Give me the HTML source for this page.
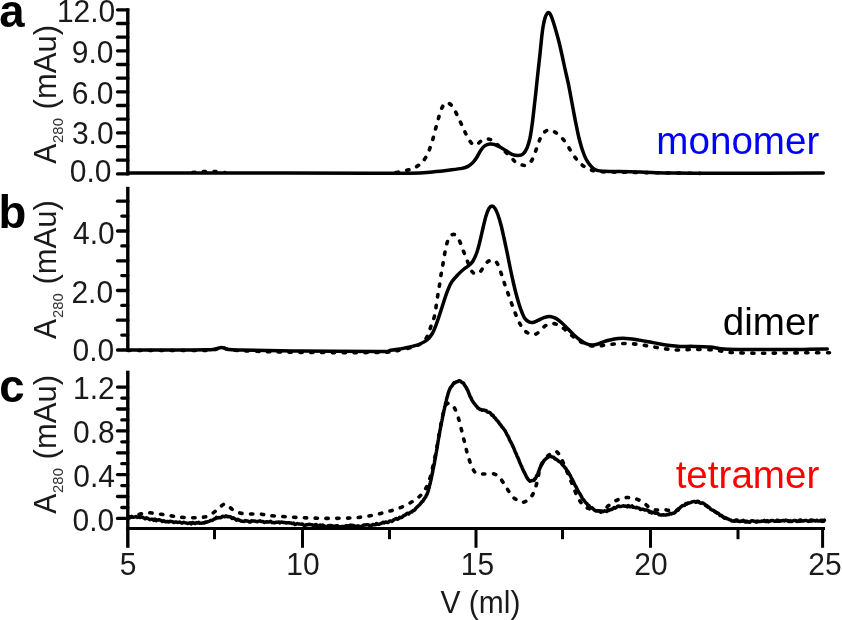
<!DOCTYPE html>
<html><head><meta charset="utf-8"><title>SEC chromatograms</title>
<style>html,body{margin:0;padding:0;background:#fff;}svg{display:block;}text{font-family:"Liberation Sans",sans-serif;}</style></head><body>
<svg width="842" height="620" viewBox="0 0 842 620">
<rect width="842" height="620" fill="#fff"/>
<line x1="127.8" y1="8.3" x2="127.8" y2="175.4" stroke="#000" stroke-width="3.4"/>
<line x1="117.5" y1="173.9" x2="127.8" y2="173.9" stroke="#000" stroke-width="3.3" stroke-linecap="round"/>
<line x1="117.5" y1="160.2" x2="127.8" y2="160.2" stroke="#000" stroke-width="3.3" stroke-linecap="round"/>
<line x1="117.5" y1="146.6" x2="127.8" y2="146.6" stroke="#000" stroke-width="3.3" stroke-linecap="round"/>
<line x1="117.5" y1="132.9" x2="127.8" y2="132.9" stroke="#000" stroke-width="3.3" stroke-linecap="round"/>
<line x1="117.5" y1="119.2" x2="127.8" y2="119.2" stroke="#000" stroke-width="3.3" stroke-linecap="round"/>
<line x1="117.5" y1="105.5" x2="127.8" y2="105.5" stroke="#000" stroke-width="3.3" stroke-linecap="round"/>
<line x1="117.5" y1="91.8" x2="127.8" y2="91.8" stroke="#000" stroke-width="3.3" stroke-linecap="round"/>
<line x1="117.5" y1="78.2" x2="127.8" y2="78.2" stroke="#000" stroke-width="3.3" stroke-linecap="round"/>
<line x1="117.5" y1="64.5" x2="127.8" y2="64.5" stroke="#000" stroke-width="3.3" stroke-linecap="round"/>
<line x1="117.5" y1="50.8" x2="127.8" y2="50.8" stroke="#000" stroke-width="3.3" stroke-linecap="round"/>
<line x1="117.5" y1="37.2" x2="127.8" y2="37.2" stroke="#000" stroke-width="3.3" stroke-linecap="round"/>
<line x1="117.5" y1="23.5" x2="127.8" y2="23.5" stroke="#000" stroke-width="3.3" stroke-linecap="round"/>
<line x1="117.5" y1="9.8" x2="127.8" y2="9.8" stroke="#000" stroke-width="3.3" stroke-linecap="round"/>
<line x1="127.8" y1="186.8" x2="127.8" y2="351.5" stroke="#000" stroke-width="3.4"/>
<line x1="117.5" y1="350.0" x2="127.8" y2="350.0" stroke="#000" stroke-width="3.3" stroke-linecap="round"/>
<line x1="121.8" y1="335.1" x2="127.8" y2="335.1" stroke="#000" stroke-width="3.3" stroke-linecap="round"/>
<line x1="117.5" y1="320.2" x2="127.8" y2="320.2" stroke="#000" stroke-width="3.3" stroke-linecap="round"/>
<line x1="121.8" y1="305.4" x2="127.8" y2="305.4" stroke="#000" stroke-width="3.3" stroke-linecap="round"/>
<line x1="117.5" y1="290.5" x2="127.8" y2="290.5" stroke="#000" stroke-width="3.3" stroke-linecap="round"/>
<line x1="121.8" y1="275.6" x2="127.8" y2="275.6" stroke="#000" stroke-width="3.3" stroke-linecap="round"/>
<line x1="117.5" y1="260.8" x2="127.8" y2="260.8" stroke="#000" stroke-width="3.3" stroke-linecap="round"/>
<line x1="121.8" y1="245.9" x2="127.8" y2="245.9" stroke="#000" stroke-width="3.3" stroke-linecap="round"/>
<line x1="117.5" y1="231.0" x2="127.8" y2="231.0" stroke="#000" stroke-width="3.3" stroke-linecap="round"/>
<line x1="121.8" y1="216.1" x2="127.8" y2="216.1" stroke="#000" stroke-width="3.3" stroke-linecap="round"/>
<line x1="117.5" y1="201.2" x2="127.8" y2="201.2" stroke="#000" stroke-width="3.3" stroke-linecap="round"/>
<line x1="127.8" y1="370.7" x2="127.8" y2="547.8" stroke="#000" stroke-width="3.4"/>
<line x1="117.5" y1="518.4" x2="127.8" y2="518.4" stroke="#000" stroke-width="3.3" stroke-linecap="round"/>
<line x1="121.8" y1="507.5" x2="127.8" y2="507.5" stroke="#000" stroke-width="3.3" stroke-linecap="round"/>
<line x1="117.5" y1="496.5" x2="127.8" y2="496.5" stroke="#000" stroke-width="3.3" stroke-linecap="round"/>
<line x1="121.8" y1="485.6" x2="127.8" y2="485.6" stroke="#000" stroke-width="3.3" stroke-linecap="round"/>
<line x1="117.5" y1="474.6" x2="127.8" y2="474.6" stroke="#000" stroke-width="3.3" stroke-linecap="round"/>
<line x1="121.8" y1="463.7" x2="127.8" y2="463.7" stroke="#000" stroke-width="3.3" stroke-linecap="round"/>
<line x1="117.5" y1="452.8" x2="127.8" y2="452.8" stroke="#000" stroke-width="3.3" stroke-linecap="round"/>
<line x1="121.8" y1="441.8" x2="127.8" y2="441.8" stroke="#000" stroke-width="3.3" stroke-linecap="round"/>
<line x1="117.5" y1="430.9" x2="127.8" y2="430.9" stroke="#000" stroke-width="3.3" stroke-linecap="round"/>
<line x1="121.8" y1="419.9" x2="127.8" y2="419.9" stroke="#000" stroke-width="3.3" stroke-linecap="round"/>
<line x1="117.5" y1="409.0" x2="127.8" y2="409.0" stroke="#000" stroke-width="3.3" stroke-linecap="round"/>
<line x1="121.8" y1="398.1" x2="127.8" y2="398.1" stroke="#000" stroke-width="3.3" stroke-linecap="round"/>
<line x1="117.5" y1="387.1" x2="127.8" y2="387.1" stroke="#000" stroke-width="3.3" stroke-linecap="round"/>
<line x1="126.1" y1="528.5" x2="825" y2="528.5" stroke="#000" stroke-width="3.2"/>
<line x1="214.5" y1="528.5" x2="214.5" y2="539.2" stroke="#000" stroke-width="3"/>
<line x1="302.5" y1="528.5" x2="302.5" y2="547.8" stroke="#000" stroke-width="3"/>
<line x1="389.5" y1="528.5" x2="389.5" y2="539.2" stroke="#000" stroke-width="3"/>
<line x1="476.0" y1="528.5" x2="476.0" y2="547.8" stroke="#000" stroke-width="3"/>
<line x1="562.5" y1="528.5" x2="562.5" y2="539.2" stroke="#000" stroke-width="3"/>
<line x1="650.5" y1="528.5" x2="650.5" y2="547.8" stroke="#000" stroke-width="3"/>
<line x1="738.0" y1="528.5" x2="738.0" y2="539.2" stroke="#000" stroke-width="3"/>
<line x1="822.6" y1="528.5" x2="822.6" y2="547.8" stroke="#000" stroke-width="3"/>
<path d="M396.0 172.6C397.3 172.3 401.7 171.5 404.0 171.0C406.3 170.5 408.3 169.9 410.0 169.4C411.7 168.9 412.5 168.7 414.0 168.0C415.5 167.3 417.5 166.1 419.0 165.0C420.5 163.9 421.5 163.6 423.0 161.6C424.5 159.6 426.5 156.3 428.0 153.0C429.5 149.7 430.8 145.7 432.0 142.0C433.2 138.3 434.0 134.7 435.0 131.0C436.0 127.3 437.0 123.5 438.0 120.0C439.0 116.5 440.0 112.6 441.0 110.0C442.0 107.4 443.1 105.6 444.0 104.4C444.9 103.2 445.4 102.9 446.4 102.8C447.4 102.7 448.7 103.0 450.0 104.0C451.3 105.0 452.5 106.5 454.0 109.0C455.5 111.5 457.3 115.5 459.0 119.0C460.7 122.5 462.5 126.8 464.0 130.0C465.5 133.2 466.7 135.7 468.0 138.0C469.3 140.3 470.7 142.4 472.0 143.6C473.3 144.8 474.5 145.4 476.0 145.0C477.5 144.6 479.5 142.0 481.0 141.0C482.5 140.0 483.5 139.3 485.0 139.0C486.5 138.7 488.5 138.9 490.0 139.4C491.5 139.9 492.3 140.7 494.0 142.0C495.7 143.3 498.2 145.4 500.0 147.0C501.8 148.6 503.3 150.1 505.0 151.6C506.7 153.1 508.3 154.3 510.0 156.0C511.7 157.7 513.2 160.1 515.0 161.6C516.8 163.1 519.0 164.2 521.0 164.8C523.0 165.4 525.2 165.8 527.0 165.0C528.8 164.2 530.5 162.5 532.0 160.0C533.5 157.5 534.7 153.5 536.0 150.0C537.3 146.5 538.7 141.9 540.0 139.0C541.3 136.1 542.5 133.9 544.0 132.4C545.5 130.9 547.3 130.1 549.0 130.0C550.7 129.9 552.2 130.6 554.0 131.6C555.8 132.6 558.0 134.1 560.0 136.0C562.0 137.9 564.0 140.2 566.0 143.0C568.0 145.8 570.0 150.0 572.0 153.0C574.0 156.0 576.0 158.8 578.0 161.0C580.0 163.2 582.0 165.0 584.0 166.4C586.0 167.8 588.0 168.8 590.0 169.6C592.0 170.4 592.7 170.8 596.0 171.2C599.3 171.6 592.7 171.6 610.0 172.0C627.3 172.4 685.0 173.2 700.0 173.4" fill="none" stroke="#000" stroke-width="3.6" stroke-linecap="round" stroke-linejoin="round" stroke-dasharray="2.3 8.5"/>
<path d="M128.0 173.0C140.0 173.0 159.7 173.0 200.0 173.0C240.3 173.0 333.3 173.2 370.0 173.2C406.7 173.2 409.0 173.3 420.0 173.0C431.0 172.7 431.0 172.1 436.0 171.6C441.0 171.1 445.7 170.5 450.0 170.0C454.3 169.5 459.0 169.0 462.0 168.4C465.0 167.8 466.2 167.4 468.0 166.4C469.8 165.4 471.5 164.0 473.0 162.4C474.5 160.8 475.7 159.1 477.0 157.0C478.3 154.9 479.7 151.9 481.0 150.0C482.3 148.1 483.5 146.6 485.0 145.6C486.5 144.6 488.5 144.2 490.0 144.0C491.5 143.8 492.3 143.9 494.0 144.4C495.7 144.9 498.0 146.0 500.0 147.0C502.0 148.0 504.0 149.4 506.0 150.6C508.0 151.8 510.0 153.6 512.0 154.4C514.0 155.2 516.2 155.7 518.0 155.6C519.8 155.5 521.5 155.3 523.0 154.0C524.5 152.7 525.8 150.7 527.0 148.0C528.2 145.3 529.1 142.0 530.0 138.0C530.9 134.0 531.5 129.2 532.2 124.0C532.9 118.8 533.6 112.5 534.2 107.0C534.8 101.5 535.4 96.8 536.0 91.0C536.6 85.2 537.3 78.2 538.0 72.0C538.7 65.8 539.4 59.7 540.0 54.0C540.6 48.3 541.1 42.7 541.6 38.0C542.1 33.3 542.6 29.3 543.2 26.0C543.8 22.7 544.4 20.1 545.0 18.0C545.6 15.9 546.4 14.5 547.0 13.6C547.6 12.7 547.8 12.5 548.4 12.6C549.0 12.7 549.6 13.0 550.4 14.4C551.2 15.8 552.1 18.2 553.0 21.0C553.9 23.8 555.0 27.5 556.0 31.0C557.0 34.5 558.0 38.0 559.0 42.0C560.0 46.0 561.0 50.5 562.0 55.0C563.0 59.5 564.0 64.5 565.0 69.0C566.0 73.5 567.0 77.5 568.0 82.0C569.0 86.5 569.8 91.3 570.7 96.0C571.6 100.7 572.4 105.3 573.3 110.0C574.2 114.7 575.0 119.3 576.0 124.0C577.0 128.7 577.9 133.7 579.0 138.0C580.1 142.3 581.2 146.5 582.4 150.0C583.6 153.5 584.7 156.5 586.0 159.0C587.3 161.5 588.7 163.3 590.0 165.0C591.3 166.7 592.7 168.1 594.0 169.0C595.3 169.9 596.3 170.2 598.0 170.6C599.7 171.0 600.3 171.0 604.0 171.2C607.7 171.4 614.0 171.5 620.0 171.6C626.0 171.7 632.0 171.8 640.0 172.0C648.0 172.2 658.0 172.8 668.0 173.0C678.0 173.2 674.1 173.2 700.0 173.2C725.9 173.2 802.8 173.1 823.3 173.1" fill="none" stroke="#000" stroke-width="3.5" stroke-linecap="round" stroke-linejoin="round"/>
<path d="M128.0 350.5C140.0 350.5 185.7 350.6 200.0 350.5C214.3 350.4 210.3 350.1 214.0 349.6C217.7 349.1 219.3 347.4 222.0 347.4C224.7 347.4 225.3 349.2 230.0 349.8C234.7 350.4 238.3 350.6 250.0 351.0C261.7 351.4 278.3 352.2 300.0 352.4C321.7 352.6 363.3 352.8 380.0 352.4C396.7 352.0 394.2 351.0 400.0 350.0C405.8 349.0 411.2 347.7 415.0 346.4C418.8 345.1 420.8 343.9 423.0 342.0C425.2 340.1 426.7 337.7 428.0 335.0C429.3 332.3 429.9 329.2 431.0 326.0C432.1 322.8 433.5 320.3 434.5 316.0C435.5 311.7 436.2 305.2 437.0 300.0C437.8 294.8 438.8 289.7 439.5 285.0C440.2 280.3 440.8 276.0 441.5 272.0C442.2 268.0 442.8 265.0 443.5 261.0C444.2 257.0 444.9 251.8 445.8 248.0C446.7 244.2 447.6 240.3 449.0 238.0C450.4 235.7 452.3 234.1 454.0 234.4C455.7 234.7 457.5 237.4 459.0 240.0C460.5 242.6 461.7 246.7 463.0 250.0C464.3 253.3 465.7 256.7 467.0 260.0C468.3 263.3 469.7 267.7 471.0 270.0C472.3 272.3 473.5 273.3 475.0 273.6C476.5 273.9 478.5 273.3 480.0 272.0C481.5 270.7 482.7 267.7 484.0 266.0C485.3 264.3 486.5 262.6 488.0 261.6C489.5 260.6 491.5 259.8 493.0 260.0C494.5 260.2 495.8 261.3 497.0 263.0C498.2 264.7 499.0 267.3 500.0 270.0C501.0 272.7 502.0 276.0 503.0 279.0C504.0 282.0 504.8 284.7 506.0 288.0C507.2 291.3 508.7 295.3 510.0 299.0C511.3 302.7 512.5 306.2 514.0 310.0C515.5 313.8 517.3 318.7 519.0 322.0C520.7 325.3 522.2 328.0 524.0 330.0C525.8 332.0 528.2 333.3 530.0 334.0C531.8 334.7 533.3 334.9 535.0 334.4C536.7 333.9 538.3 332.4 540.0 331.0C541.7 329.6 543.2 327.2 545.0 326.0C546.8 324.8 549.0 323.9 551.0 323.6C553.0 323.3 555.0 323.7 557.0 324.4C559.0 325.1 561.0 326.6 563.0 328.0C565.0 329.4 567.0 331.3 569.0 333.0C571.0 334.7 572.8 336.4 575.0 338.0C577.2 339.6 579.5 341.1 582.0 342.4C584.5 343.7 587.3 345.0 590.0 345.6C592.7 346.2 595.3 346.1 598.0 346.0C600.7 345.9 603.3 345.3 606.0 345.0C608.7 344.7 611.3 344.2 614.0 344.0C616.7 343.8 619.3 343.7 622.0 343.6C624.7 343.5 627.3 343.5 630.0 343.6C632.7 343.7 635.3 344.1 638.0 344.4C640.7 344.7 643.3 345.2 646.0 345.6C648.7 346.0 651.3 346.5 654.0 347.0C656.7 347.5 659.3 348.0 662.0 348.4C664.7 348.8 667.3 349.1 670.0 349.4C672.7 349.7 674.0 350.0 678.0 350.0C682.0 350.0 688.0 349.4 694.0 349.4C700.0 349.4 708.0 349.5 714.0 350.0C720.0 350.5 723.3 351.9 730.0 352.4C736.7 352.9 746.7 353.1 754.0 353.2C761.3 353.3 765.7 353.2 774.0 353.1C782.3 353.0 794.8 352.9 804.0 352.8C813.2 352.8 825.2 352.8 829.5 352.8" fill="none" stroke="#000" stroke-width="3.6" stroke-linecap="round" stroke-linejoin="round" stroke-dasharray="2.3 8.5"/>
<path d="M128.0 350.0C136.7 350.0 167.2 350.0 180.0 350.0C192.8 350.0 199.2 349.9 205.0 349.8C210.8 349.7 212.2 349.6 215.0 349.2C217.8 348.8 219.3 347.4 221.5 347.4C223.7 347.4 224.9 349.0 228.0 349.4C231.1 349.8 228.0 349.7 240.0 350.0C252.0 350.3 276.7 350.8 300.0 351.0C323.3 351.2 365.0 351.5 380.0 351.4C395.0 351.3 386.7 350.8 390.0 350.4C393.3 350.0 396.7 349.6 400.0 349.0C403.3 348.4 406.7 347.8 410.0 347.0C413.3 346.2 417.2 345.2 420.0 344.0C422.8 342.8 425.0 341.7 427.0 340.0C429.0 338.3 430.5 336.5 432.0 334.0C433.5 331.5 434.7 328.4 436.0 325.0C437.3 321.6 438.7 317.5 440.0 313.5C441.3 309.5 442.7 305.0 444.0 301.0C445.3 297.0 446.7 292.8 448.0 289.6C449.3 286.4 450.3 284.1 452.0 281.6C453.7 279.1 456.0 276.7 458.0 274.6C460.0 272.5 462.2 270.5 464.0 269.0C465.8 267.5 467.5 266.7 469.0 265.4C470.5 264.1 471.7 263.2 473.0 261.0C474.3 258.8 475.8 255.3 477.0 252.0C478.2 248.7 479.0 245.0 480.0 241.0C481.0 237.0 482.0 232.2 483.0 228.0C484.0 223.8 485.0 219.3 486.0 216.0C487.0 212.7 488.0 210.1 489.0 208.4C490.0 206.7 491.0 206.0 492.0 206.0C493.0 206.0 494.0 206.9 495.0 208.4C496.0 209.9 497.0 212.2 498.0 215.0C499.0 217.8 500.0 221.2 501.0 225.0C502.0 228.8 503.0 233.5 504.0 238.0C505.0 242.5 506.0 247.2 507.0 252.0C508.0 256.8 509.0 262.2 510.0 267.0C511.0 271.8 512.0 276.6 513.0 281.0C514.0 285.4 515.0 289.7 516.0 293.5C517.0 297.3 518.0 300.8 519.0 304.0C520.0 307.2 521.0 310.1 522.0 312.5C523.0 314.9 523.8 317.1 525.0 318.6C526.2 320.2 527.7 321.2 529.0 321.8C530.3 322.4 531.5 322.6 533.0 322.4C534.5 322.2 536.2 321.2 538.0 320.4C539.8 319.6 542.0 318.3 544.0 317.6C546.0 316.9 548.0 316.3 550.0 316.4C552.0 316.5 554.0 317.3 556.0 318.4C558.0 319.5 560.0 321.2 562.0 323.0C564.0 324.8 566.0 327.0 568.0 329.0C570.0 331.0 572.0 333.2 574.0 335.0C576.0 336.8 578.0 338.6 580.0 340.0C582.0 341.4 584.0 342.8 586.0 343.6C588.0 344.4 590.0 344.9 592.0 345.0C594.0 345.1 596.0 344.6 598.0 344.0C600.0 343.4 602.0 342.3 604.0 341.6C606.0 340.9 607.7 340.5 610.0 340.0C612.3 339.5 615.3 338.9 618.0 338.6C620.7 338.3 623.3 338.3 626.0 338.4C628.7 338.5 631.3 338.8 634.0 339.2C636.7 339.6 639.3 340.1 642.0 340.6C644.7 341.1 647.0 341.4 650.0 342.0C653.0 342.6 656.7 343.4 660.0 344.0C663.3 344.6 666.7 345.2 670.0 345.6C673.3 346.0 676.0 346.3 680.0 346.4C684.0 346.5 689.0 346.3 694.0 346.4C699.0 346.5 705.0 346.6 710.0 347.0C715.0 347.4 718.3 348.6 724.0 349.0C729.7 349.4 735.7 349.5 744.0 349.6C752.3 349.7 764.0 349.5 774.0 349.5C784.0 349.5 795.1 349.5 804.0 349.4C812.9 349.3 823.4 349.2 827.3 349.1" fill="none" stroke="#000" stroke-width="3.5" stroke-linecap="round" stroke-linejoin="round"/>
<path d="M129.0 518.0C130.2 517.6 133.2 516.5 136.0 515.6C138.8 514.7 142.7 513.1 146.0 512.8C149.3 512.5 152.7 513.2 156.0 513.6C159.3 514.0 162.7 514.5 166.0 515.0C169.3 515.5 172.7 516.2 176.0 516.6C179.3 517.0 182.3 517.4 186.0 517.6C189.7 517.8 194.3 517.9 198.0 517.6C201.7 517.3 204.8 517.3 208.0 516.0C211.2 514.7 214.2 512.0 217.0 510.0C219.8 508.0 222.3 504.0 225.0 504.0C227.7 504.0 230.5 508.5 233.0 510.0C235.5 511.5 237.2 512.3 240.0 513.0C242.8 513.7 246.7 513.8 250.0 514.0C253.3 514.2 256.7 513.7 260.0 514.0C263.3 514.3 265.0 515.1 270.0 515.6C275.0 516.1 283.3 516.6 290.0 517.0C296.7 517.4 303.3 517.8 310.0 518.0C316.7 518.2 323.3 518.4 330.0 518.4C336.7 518.4 344.7 518.2 350.0 518.0C355.3 517.8 358.0 517.5 362.0 517.0C366.0 516.5 370.0 515.8 374.0 515.0C378.0 514.2 382.0 513.1 386.0 512.0C390.0 510.9 394.0 510.1 398.0 508.6C402.0 507.1 406.3 505.1 410.0 503.0C413.7 500.9 417.3 498.5 420.0 496.0C422.7 493.5 424.3 491.0 426.0 488.0C427.7 485.0 428.8 481.7 430.0 478.0C431.2 474.3 432.0 470.3 433.0 466.0C434.0 461.7 435.0 457.2 436.0 452.0C437.0 446.8 438.0 440.5 439.0 435.0C440.0 429.5 441.0 423.7 442.0 419.0C443.0 414.3 444.0 409.6 445.0 407.0C446.0 404.4 447.0 403.8 448.0 403.4C449.0 403.0 449.8 403.5 451.0 404.4C452.2 405.3 453.7 406.4 455.0 409.0C456.3 411.6 457.8 416.2 459.0 420.0C460.2 423.8 461.0 428.0 462.0 432.0C463.0 436.0 464.0 440.0 465.0 444.0C466.0 448.0 466.8 452.2 468.0 456.0C469.2 459.8 470.7 464.2 472.0 467.0C473.3 469.8 474.0 471.8 476.0 473.0C478.0 474.2 481.0 473.8 484.0 474.0C487.0 474.2 491.3 473.3 494.0 474.0C496.7 474.7 498.0 475.8 500.0 478.0C502.0 480.2 504.0 484.0 506.0 487.0C508.0 490.0 510.2 493.8 512.0 496.0C513.8 498.2 515.3 498.9 517.0 500.0C518.7 501.1 520.2 502.4 522.0 502.4C523.8 502.4 526.2 501.4 528.0 500.0C529.8 498.6 531.7 496.3 533.0 494.0C534.3 491.7 535.2 488.7 536.0 486.0C536.8 483.3 537.3 481.0 538.0 478.0C538.7 475.0 539.0 471.0 540.0 468.0C541.0 465.0 542.5 462.2 544.0 460.0C545.5 457.8 547.2 456.4 549.0 455.0C550.8 453.6 553.5 451.9 555.0 451.6C556.5 451.3 556.8 451.6 558.0 453.0C559.2 454.4 560.3 456.5 562.0 460.0C563.7 463.5 566.2 469.7 568.0 474.0C569.8 478.3 571.3 482.0 573.0 486.0C574.7 490.0 576.2 494.7 578.0 498.0C579.8 501.3 582.0 504.2 584.0 506.0C586.0 507.8 587.0 508.2 590.0 509.0C593.0 509.8 599.0 511.5 602.0 511.0C605.0 510.5 606.0 507.6 608.0 506.0C610.0 504.4 612.0 502.8 614.0 501.6C616.0 500.4 618.0 499.7 620.0 499.0C622.0 498.3 624.0 497.8 626.0 497.6C628.0 497.4 630.0 497.7 632.0 498.0C634.0 498.3 636.0 498.8 638.0 499.6C640.0 500.4 642.0 501.6 644.0 503.0C646.0 504.4 648.0 506.8 650.0 508.0C652.0 509.2 654.0 509.8 656.0 510.0C658.0 510.2 659.7 509.3 662.0 509.4C664.3 509.5 667.7 510.2 670.0 510.4C672.3 510.6 674.2 511.2 676.0 510.6C677.8 510.0 679.3 508.1 681.0 507.0C682.7 505.9 684.2 504.8 686.0 504.0C687.8 503.2 690.2 502.8 692.0 502.4C693.8 502.0 695.3 501.5 697.0 501.6C698.7 501.7 700.2 502.1 702.0 503.0C703.8 503.9 706.0 505.7 708.0 507.0C710.0 508.3 712.0 509.7 714.0 511.0C716.0 512.3 718.0 513.8 720.0 515.0C722.0 516.2 724.0 517.5 726.0 518.4C728.0 519.3 729.7 520.0 732.0 520.4C734.3 520.8 735.3 520.8 740.0 521.0C744.7 521.2 745.9 521.4 760.0 521.4C774.1 521.4 813.7 520.9 824.4 520.8" fill="none" stroke="#000" stroke-width="3.6" stroke-linecap="round" stroke-linejoin="round" stroke-dasharray="2.3 8.5"/>
<path d="M129.0 516.7L129.7 516.5L130.7 517.3L131.9 516.4L133.2 517.2L134.6 517.0L136.0 516.6L137.4 517.4L138.8 516.8L140.0 517.5L141.3 517.1L142.6 517.2L143.8 517.9L145.1 518.8L146.3 517.8L147.5 518.2L148.8 519.0L150.0 519.7L151.2 519.3L152.5 519.2L153.8 520.3L155.0 519.1L156.2 520.6L157.5 519.9L158.8 519.8L160.0 520.0L161.2 520.5L162.5 521.5L163.8 520.7L165.0 521.5L166.2 521.8L167.5 521.5L168.8 522.0L170.0 521.3L171.2 521.4L172.5 521.7L173.8 522.5L175.0 522.1L176.2 522.0L177.5 522.4L178.8 522.3L180.0 522.1L181.2 522.9L182.5 522.9L183.8 522.2L185.0 522.8L186.2 522.9L187.5 523.5L188.8 523.3L190.0 522.7L191.3 523.8L192.5 522.5L193.8 523.0L195.1 523.5L196.4 522.6L197.6 523.1L198.8 522.3L200.0 523.3L201.5 523.3L202.9 522.8L204.2 523.1L205.6 521.9L206.8 522.2L208.0 521.7L209.3 521.3L210.5 520.6L211.7 520.5L212.8 520.1L214.0 519.0L215.2 518.8L216.4 517.4L217.6 518.0L218.8 517.5L220.0 517.8L221.2 517.3L222.4 516.3L223.6 516.4L224.8 516.8L226.0 515.8L227.2 516.7L228.4 516.5L229.6 516.7L230.8 517.0L232.0 518.4L233.1 517.8L234.2 518.4L235.3 519.1L236.5 520.2L238.0 519.3L239.0 520.1L240.2 520.5L241.4 521.2L242.6 521.2L243.9 521.4L245.3 520.6L246.6 521.0L248.0 521.0L249.1 521.9L250.3 522.1L251.5 520.8L252.7 520.9L253.9 521.0L255.1 521.1L256.3 521.5L257.6 521.7L258.8 521.2L260.0 520.8L261.2 521.5L262.3 521.5L263.4 521.8L264.5 522.4L265.6 522.0L266.8 521.8L268.0 522.0L269.2 522.1L270.6 521.2L272.0 522.6L273.0 522.5L274.1 522.8L275.2 522.7L276.3 522.2L277.5 522.3L278.7 521.9L279.9 522.9L281.1 522.1L282.4 522.2L283.6 522.6L284.9 522.6L286.2 523.0L287.5 522.7L288.7 522.7L290.0 523.0L291.2 523.1L292.4 523.6L293.6 523.1L294.9 524.6L296.1 524.2L297.4 523.6L298.6 523.9L299.9 524.1L301.1 524.2L302.4 523.9L303.7 525.2L305.0 525.5L306.2 524.7L307.5 524.8L308.7 524.3L310.0 524.4L311.2 524.8L312.5 524.8L313.8 525.8L315.0 524.8L316.2 524.6L317.5 526.2L318.8 525.6L320.0 525.0L321.2 525.7L322.5 525.0L323.8 525.8L325.0 526.6L326.2 526.5L327.5 526.2L328.8 525.6L330.0 525.8L331.2 525.5L332.5 526.5L333.8 526.1L335.0 526.5L336.2 525.8L337.5 525.7L338.8 526.6L340.0 526.9L341.2 526.7L342.5 526.6L343.8 526.6L345.0 526.5L346.2 525.6L347.5 526.1L348.8 525.8L350.0 525.2L351.3 525.2L352.6 525.6L353.9 525.5L355.2 526.2L356.5 526.5L357.9 525.7L359.2 526.4L360.5 526.4L361.8 526.3L363.1 525.3L364.3 525.0L365.6 524.9L366.7 524.8L367.9 524.7L369.0 525.3L370.0 525.6L371.5 525.4L372.9 524.6L374.2 524.7L375.4 524.8L376.5 523.5L377.6 524.2L378.7 524.3L379.7 523.9L380.8 523.6L382.0 523.0L383.2 522.2L384.4 522.9L385.7 522.0L386.9 522.4L388.1 522.4L389.3 521.2L390.5 520.9L391.7 521.4L392.9 520.7L394.0 519.5L395.2 519.0L396.4 518.6L397.5 519.3L398.6 518.7L399.7 517.2L400.7 517.7L401.8 517.4L402.9 516.4L404.0 515.4L405.1 515.1L406.3 514.0L407.4 513.2L408.6 514.0L409.7 512.9L410.8 512.1L411.9 512.0L413.0 510.6L414.0 510.5L415.0 509.6L416.0 508.0L416.9 507.2L417.9 506.4L418.8 505.4L419.6 504.8L420.5 503.6L421.3 502.8L422.0 501.6L422.9 501.3L423.7 499.6L424.5 498.6L425.2 497.6L425.8 496.7L426.4 495.2L427.0 494.3L427.5 492.9L427.9 491.8L428.3 490.6L428.6 489.2L429.0 488.1L429.3 486.7L429.6 485.3L430.0 484.1L430.3 482.8L430.5 481.7L430.8 480.6L431.1 479.3L431.4 478.0L431.6 476.7L431.9 475.4L432.2 474.2L432.5 472.6L432.7 471.4L433.0 469.9L433.2 468.8L433.5 467.8L433.7 466.5L433.9 465.3L434.2 464.2L434.4 463.0L434.6 461.6L434.8 460.4L435.1 459.1L435.3 457.9L435.5 456.6L435.8 455.3L436.0 454.0L436.2 452.8L436.4 451.8L436.6 450.5L436.8 449.4L437.0 448.2L437.2 446.8L437.4 445.6L437.6 444.5L437.8 443.2L438.0 441.8L438.2 440.6L438.4 439.5L438.6 438.2L438.8 437.1L439.0 435.9L439.2 434.7L439.5 433.5L439.7 432.2L439.9 430.8L440.2 429.7L440.4 428.4L440.6 427.0L440.8 426.0L441.1 424.9L441.3 423.4L441.5 422.5L441.8 421.1L442.0 420.0L442.3 418.8L442.5 417.4L442.8 415.9L443.1 414.7L443.4 413.4L443.6 412.1L443.9 410.8L444.2 409.6L444.5 408.5L444.7 407.0L445.0 406.0L445.3 404.7L445.6 403.2L445.9 402.0L446.2 400.9L446.5 399.6L446.8 398.2L447.1 397.4L447.4 396.2L447.7 395.2L448.0 393.8L448.5 392.4L449.0 390.9L449.4 390.2L449.9 388.8L450.4 387.7L451.0 386.9L451.7 386.2L452.5 385.1L453.4 383.6L454.2 382.6L455.0 383.0L456.3 381.8L457.7 381.7L459.0 380.7L460.3 380.9L461.7 382.3L463.0 382.9L463.7 383.3L464.4 385.0L465.1 385.8L465.7 387.0L466.4 387.6L467.0 389.3L467.6 389.8L468.1 391.5L468.6 392.5L469.0 393.6L469.5 394.9L470.0 396.3L470.6 397.1L471.2 398.3L471.7 399.7L472.3 400.7L473.0 401.7L473.7 402.8L474.5 403.7L475.4 404.9L476.2 405.9L477.0 406.8L478.0 408.2L478.9 408.5L479.9 409.4L481.0 409.5L482.2 410.2L483.5 409.9L484.8 410.5L486.0 410.5L487.4 412.0L488.6 412.2L490.0 412.6L490.9 413.7L491.9 415.2L493.0 415.3L494.0 417.2L495.0 417.9L495.8 418.9L496.7 420.2L497.5 420.8L498.3 421.9L499.2 423.1L500.0 424.5L500.7 424.8L501.4 426.2L502.1 427.0L502.9 427.9L503.6 428.7L504.3 429.7L505.0 430.6L505.6 431.8L506.2 432.8L506.9 434.5L507.5 435.4L508.1 436.5L508.8 437.7L509.4 439.5L510.0 440.8L510.6 441.7L511.1 442.6L511.7 443.7L512.2 444.9L512.8 446.1L513.3 447.1L513.9 448.5L514.4 449.6L515.0 451.3L515.5 452.5L516.0 453.4L516.5 454.4L517.0 456.1L517.6 457.0L518.1 458.3L518.6 459.3L519.1 460.7L519.5 461.9L520.0 463.0L520.5 464.1L521.1 465.5L521.6 466.4L522.1 467.7L522.5 468.6L523.0 469.9L523.5 470.7L524.0 471.7L524.7 473.2L525.4 474.5L526.1 476.0L526.7 477.1L527.4 478.4L528.0 479.2L529.1 480.4L530.0 481.3L531.0 480.8L532.5 480.6L534.0 480.6L534.8 478.8L535.5 478.4L536.2 477.0L537.0 475.2L537.5 474.6L538.0 473.4L538.5 471.9L539.0 470.6L539.5 469.4L540.0 467.8L540.6 466.7L541.2 465.4L541.8 464.4L542.4 463.3L543.0 462.3L544.0 460.6L544.9 459.8L546.0 458.6L547.2 457.9L548.6 456.8L550.0 456.3L551.2 456.5L552.4 457.1L553.7 457.2L555.0 458.9L556.0 459.0L557.0 459.8L558.0 460.6L559.0 461.5L560.0 462.1L561.0 462.4L561.9 464.2L562.7 465.1L563.6 465.8L564.4 466.8L565.2 468.0L566.0 468.6L566.7 470.2L567.4 470.9L568.1 471.8L568.9 473.1L569.6 474.7L570.3 475.5L571.0 477.2L571.6 478.4L572.1 479.1L572.7 480.1L573.2 481.3L573.8 482.6L574.3 483.9L574.9 484.9L575.4 486.0L576.0 486.7L576.6 487.9L577.2 489.2L577.9 490.7L578.5 491.5L579.1 492.9L579.8 493.5L580.4 494.6L581.0 495.8L581.7 497.3L582.4 498.4L583.1 499.4L583.9 500.1L584.6 501.2L585.3 502.1L586.0 503.0L587.0 503.7L588.0 505.6L589.0 505.6L590.0 507.4L591.0 508.2L592.2 507.8L593.4 509.2L594.7 510.3L596.0 511.1L597.1 510.7L598.3 510.8L599.6 510.9L600.8 512.2L602.0 511.1L603.2 511.7L604.4 510.8L605.6 511.1L606.8 511.5L608.0 509.8L609.2 510.5L610.4 509.5L611.6 509.5L612.8 508.7L614.0 507.6L615.2 508.2L616.4 507.3L617.6 506.3L618.8 506.0L620.0 506.6L621.2 506.4L622.4 506.1L623.6 505.8L624.8 506.2L626.0 506.1L627.2 506.9L628.4 505.5L629.6 506.7L630.8 506.8L632.0 505.8L633.2 507.3L634.3 507.2L635.5 507.8L636.7 507.3L638.0 507.8L639.2 508.2L640.5 509.5L641.9 509.3L643.3 509.3L644.6 509.9L646.0 510.1L647.1 510.1L648.3 510.6L649.4 512.1L650.6 511.6L651.7 513.0L652.9 512.3L654.0 512.6L655.3 513.3L656.7 513.1L658.0 513.7L659.3 514.8L660.7 514.9L662.0 514.9L663.4 514.7L664.7 515.1L666.1 515.1L667.5 514.4L668.8 514.6L670.0 513.3L671.3 514.0L672.6 513.2L673.8 513.2L674.9 512.5L676.0 511.3L677.1 510.2L678.1 510.3L679.0 508.4L680.0 507.8L681.0 506.8L682.2 505.8L683.4 505.6L684.7 505.3L686.0 503.6L687.2 503.8L688.4 502.9L689.6 503.0L690.8 502.5L692.0 501.9L693.3 501.6L694.6 501.4L695.8 502.3L697.0 501.6L698.2 501.3L699.4 502.6L700.7 503.2L702.0 502.9L702.9 503.0L703.9 503.7L704.9 504.3L706.0 505.4L707.0 505.8L708.0 506.7L709.0 507.3L710.0 508.4L711.0 509.5L712.0 510.0L713.0 510.2L714.0 510.9L715.0 511.7L716.0 512.2L717.0 512.8L718.0 513.1L719.0 514.1L720.0 515.6L721.2 515.2L722.4 516.5L723.6 517.4L724.8 518.3L726.0 518.0L727.2 518.6L728.3 519.0L729.5 519.6L730.7 520.0L732.0 521.1L733.2 521.1L734.4 521.3L735.8 520.0L737.1 520.1L738.5 521.3L740.0 521.6L741.1 521.0L742.1 521.3L743.2 520.4L744.2 521.1L745.4 522.0L746.8 521.9L748.3 522.0L750.0 522.2L751.0 521.0L752.0 520.8L753.0 520.8L754.1 521.4L755.2 521.6L756.4 522.0L757.6 521.6L758.9 521.5L760.2 521.6L761.5 521.1L762.8 521.2L764.2 520.4L765.6 521.5L767.0 520.6L768.5 521.7L770.0 521.2L771.1 520.7L772.2 520.4L773.3 520.6L774.4 521.2L775.6 521.3L776.8 520.3L778.0 520.2L779.2 521.0L780.5 521.0L781.7 520.7L783.0 520.4L784.2 521.0L785.5 520.1L786.8 520.6L788.1 520.8L789.3 521.6L790.6 521.1L791.9 521.5L793.1 520.8L794.4 520.4L795.6 520.4L796.8 521.5L798.0 521.1L799.3 520.5L800.6 520.0L801.9 520.8L803.3 521.0L804.6 520.6L806.0 520.4L807.4 521.0L808.8 521.4L810.2 520.3L811.6 520.0L812.9 520.4L814.3 520.6L815.6 521.0L816.8 520.2L818.0 521.1L819.1 521.0L820.2 520.6L821.2 520.2L822.2 521.4L823.0 520.3L823.7 521.1L824.4 520.2" fill="none" stroke="#000" stroke-width="3.5" stroke-linecap="round" stroke-linejoin="round"/>
<path d="M192.6 172.3C198 171.6 203 171.2 208.5 171.2C214 171.2 219 171.6 225 172.3" fill="none" stroke="#000" stroke-width="3.2" stroke-linecap="round" stroke-dasharray="2.3 8.4"/>
<text transform="translate(115.3 22.0) scale(1 1.075)" font-size="30" text-anchor="end" fill="#1a1a1a">12.0</text>
<text transform="translate(113.4 62.7) scale(1 1.075)" font-size="30" text-anchor="end" fill="#1a1a1a">9.0</text>
<text transform="translate(113.4 104.2) scale(1 1.075)" font-size="30" text-anchor="end" fill="#1a1a1a">6.0</text>
<text transform="translate(113.6 143.5) scale(1 1.075)" font-size="30" text-anchor="end" fill="#1a1a1a">3.0</text>
<text transform="translate(111.4 181.6) scale(1 1.075)" font-size="30" text-anchor="end" fill="#1a1a1a">0.0</text>
<text transform="translate(114.7 243.9) scale(1 1.075)" font-size="30" text-anchor="end" fill="#1a1a1a">4.0</text>
<text transform="translate(113.1 303.4) scale(1 1.075)" font-size="30" text-anchor="end" fill="#1a1a1a">2.0</text>
<text transform="translate(114.3 361.0) scale(1 1.075)" font-size="30" text-anchor="end" fill="#1a1a1a">0.0</text>
<text transform="translate(114.7 398.6) scale(1 1.075)" font-size="30" text-anchor="end" fill="#1a1a1a">1.2</text>
<text transform="translate(114.7 442.6) scale(1 1.075)" font-size="30" text-anchor="end" fill="#1a1a1a">0.8</text>
<text transform="translate(115.0 487.2) scale(1 1.075)" font-size="30" text-anchor="end" fill="#1a1a1a">0.4</text>
<text transform="translate(114.3 530.8) scale(1 1.075)" font-size="30" text-anchor="end" fill="#1a1a1a">0.0</text>
<text transform="translate(128.0 574.6) scale(1 1.075)" font-size="30" text-anchor="middle" fill="#1a1a1a">5</text>
<text transform="translate(303.0 574.6) scale(1 1.075)" font-size="30" text-anchor="middle" fill="#1a1a1a">10</text>
<text transform="translate(477.5 574.6) scale(1 1.075)" font-size="30" text-anchor="middle" fill="#1a1a1a">15</text>
<text transform="translate(651.0 574.6) scale(1 1.075)" font-size="30" text-anchor="middle" fill="#1a1a1a">20</text>
<text transform="translate(825.0 574.6) scale(1 1.075)" font-size="30" text-anchor="middle" fill="#1a1a1a">25</text>
<text transform="translate(480.5 612.9) scale(1 1.075)" font-size="30" text-anchor="middle" fill="#1a1a1a">V (ml)</text>
<text transform="translate(56.2 163.7) rotate(-90) scale(1 1.075)" font-size="30" fill="#1a1a1a">A</text>
<text transform="translate(63.2 142.9) rotate(-90)" font-size="15.4" textLength="24.8" lengthAdjust="spacingAndGlyphs" fill="#333">280</text>
<text transform="translate(56.2 109.4) rotate(-90) scale(1 1.030)" font-size="30" textLength="84.5" lengthAdjust="spacingAndGlyphs" fill="#1a1a1a">(mAu)</text>
<text transform="translate(56.2 338.9) rotate(-90) scale(1 1.075)" font-size="30" fill="#1a1a1a">A</text>
<text transform="translate(63.2 318.1) rotate(-90)" font-size="15.4" textLength="24.8" lengthAdjust="spacingAndGlyphs" fill="#333">280</text>
<text transform="translate(56.2 284.6) rotate(-90) scale(1 1.030)" font-size="30" textLength="84.5" lengthAdjust="spacingAndGlyphs" fill="#1a1a1a">(mAu)</text>
<text transform="translate(56.2 513.7) rotate(-90) scale(1 1.075)" font-size="30" fill="#1a1a1a">A</text>
<text transform="translate(63.2 492.9) rotate(-90)" font-size="15.4" textLength="24.8" lengthAdjust="spacingAndGlyphs" fill="#333">280</text>
<text transform="translate(56.2 459.4) rotate(-90) scale(1 1.030)" font-size="30" textLength="84.5" lengthAdjust="spacingAndGlyphs" fill="#1a1a1a">(mAu)</text>
<text x="-0.8" y="26.6" font-size="45.5" font-weight="bold" fill="#000">a</text>
<text x="-1.4" y="228.4" font-size="45.5" font-weight="bold" fill="#000">b</text>
<text x="-0.8" y="402.0" font-size="45.5" font-weight="bold" fill="#000">c</text>
<text x="819.3" y="154.2" font-size="38.6" text-anchor="end" fill="#0000ff">monomer</text>
<text x="819.3" y="335.2" font-size="38.6" text-anchor="end" fill="#000">dimer</text>
<text x="819.3" y="488.2" font-size="38.6" text-anchor="end" fill="#ff0000">tetramer</text>
</svg></body></html>
